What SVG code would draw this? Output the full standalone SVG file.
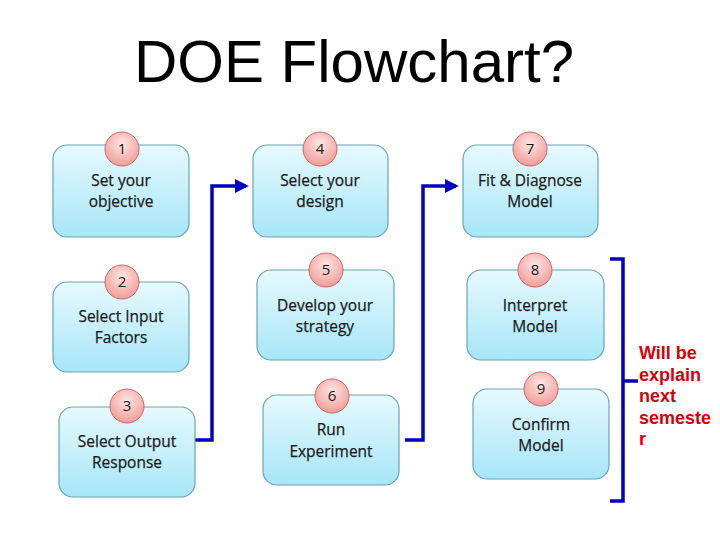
<svg xmlns="http://www.w3.org/2000/svg" width="720" height="540" viewBox="0 0 720 540">
<defs>
<linearGradient id="bx" x1="0" y1="0" x2="0" y2="1">
<stop offset="0" stop-color="#e6f9fe"/>
<stop offset="1" stop-color="#a6e6f8"/>
</linearGradient>
<radialGradient id="cg" cx="0.5" cy="0.35" r="0.65">
<stop offset="0" stop-color="#fde6e4"/>
<stop offset="1" stop-color="#f19c98"/>
</radialGradient>
<marker id="ah" markerWidth="4" markerHeight="4" refX="3.2" refY="2" orient="auto" markerUnits="strokeWidth">
<path d="M0,0 L4,2 L0,4 z" fill="#0000c0"/>
</marker>
</defs>
<style>
.box{fill:url(#bx);stroke:#6aa3b4;stroke-width:1.2}
.num{fill:url(#cg);stroke:#c46a68;stroke-width:1}
.t{font-family:"Open Sans","Liberation Sans",sans-serif;font-size:15.5px;fill:#1a1a1a;stroke:#1a1a1a;stroke-width:0.25;text-anchor:middle}
.n{font-family:"Open Sans","Liberation Sans",sans-serif;font-size:15px;fill:#1a1a1a;text-anchor:middle}
.con{fill:none;stroke:#0000c0;stroke-width:3.5}
.note{font-family:"Liberation Sans",Arial,sans-serif;font-size:18px;font-weight:bold;fill:#d0000a}
</style>
<rect width="720" height="540" fill="#ffffff"/>
<text x="354" y="82" font-family="Liberation Sans,Arial,sans-serif" font-size="60" text-anchor="middle" fill="#000">DOE Flowchart?</text>

<g id="connectors">
<path class="con" d="M195,440 H212 V186 H246" marker-end="url(#ah)"/>
<path class="con" d="M405,440 H423 V186 H456" marker-end="url(#ah)"/>
<path class="con" d="M610,259 H623 V501 H610 M623,381 H638"/>
</g>

<g id="n1"><rect class="box" x="53" y="145" width="136" height="92" rx="14"/><circle class="num" cx="122" cy="149" r="17"/><text class="n" x="122" y="154">1</text><text class="t" x="121" y="186">Set your</text><text class="t" x="121" y="207">objective</text></g>
<g id="n2"><rect class="box" x="53" y="282" width="136" height="90" rx="14"/><circle class="num" cx="122" cy="282" r="17"/><text class="n" x="122" y="287">2</text><text class="t" x="121" y="322">Select Input</text><text class="t" x="121" y="343">Factors</text></g>
<g id="n3"><rect class="box" x="59" y="407" width="136" height="90" rx="14"/><circle class="num" cx="127" cy="406" r="17"/><text class="n" x="127" y="411">3</text><text class="t" x="127" y="447">Select Output</text><text class="t" x="127" y="468">Response</text></g>

<g id="n4"><rect class="box" x="253" y="145" width="135" height="92" rx="14"/><circle class="num" cx="320" cy="149" r="17"/><text class="n" x="320" y="154">4</text><text class="t" x="320" y="186">Select your</text><text class="t" x="320" y="207">design</text></g>
<g id="n5"><rect class="box" x="257" y="270" width="137" height="90" rx="14"/><circle class="num" cx="326" cy="270" r="17"/><text class="n" x="326" y="275">5</text><text class="t" x="325" y="311">Develop your</text><text class="t" x="325" y="332">strategy</text></g>
<g id="n6"><rect class="box" x="263" y="395" width="136" height="90" rx="14"/><circle class="num" cx="332" cy="396" r="17"/><text class="n" x="332" y="401">6</text><text class="t" x="331" y="435">Run</text><text class="t" x="331" y="457">Experiment</text></g>

<g id="n7"><rect class="box" x="463" y="145" width="135" height="92" rx="14"/><circle class="num" cx="530" cy="149" r="17"/><text class="n" x="530" y="154">7</text><text class="t" x="530" y="186">Fit &amp; Diagnose</text><text class="t" x="530" y="207">Model</text></g>
<g id="n8"><rect class="box" x="467" y="270" width="137" height="90" rx="14"/><circle class="num" cx="535" cy="270" r="17"/><text class="n" x="535" y="275">8</text><text class="t" x="535" y="311">Interpret</text><text class="t" x="535" y="332">Model</text></g>
<g id="n9"><rect class="box" x="473" y="389" width="136" height="90" rx="14"/><circle class="num" cx="541" cy="389" r="17"/><text class="n" x="541" y="394">9</text><text class="t" x="541" y="430">Confirm</text><text class="t" x="541" y="451">Model</text></g>

<g id="note">
<text class="note" x="639" y="359">Will be</text>
<text class="note" x="639" y="381">explain</text>
<text class="note" x="639" y="402">next</text>
<text class="note" x="639" y="424">semeste</text>
<text class="note" x="639" y="445">r</text>
</g>
</svg>
